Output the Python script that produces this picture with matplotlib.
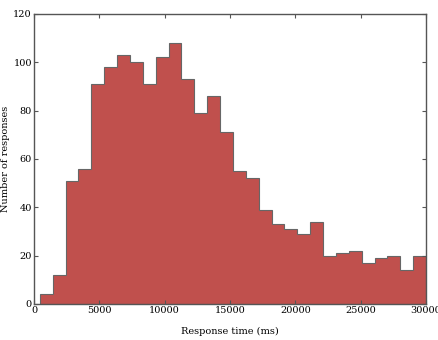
import matplotlib
matplotlib.use("Agg")
import matplotlib.pyplot as plt
import numpy as np

# response counts per bin
COUNTS = [4, 12, 51, 56, 91, 98, 103, 100, 91, 102,
          108, 93, 79, 86, 71, 55, 52, 39, 33, 31,
          29, 34, 20, 21, 22, 17, 19, 20, 14, 20]
MIN_TIME = 450
MAX_TIME = 30000

plt.rcParams["font.family"] = "DejaVu Serif"
plt.rcParams["font.size"] = 7


def main():
    edges = np.linspace(MIN_TIME, MAX_TIME, len(COUNTS) + 1)

    fig = plt.figure(figsize=(4.38, 3.40), dpi=100)
    ax = fig.add_axes([0.0776, 0.1059, 0.895, 0.853])

    ax.hist(edges[:-1], bins=edges, weights=COUNTS, histtype="stepfilled",
            facecolor="#c0504d", edgecolor="#666666", linewidth=0.8)

    ax.set_xlim(0, 30000)
    ax.set_ylim(0, 120)
    ax.set_xticks(np.arange(0, 30001, 5000))
    ax.set_yticks(np.arange(0, 121, 20))
    ax.tick_params(direction="in", top=True, right=True, length=3,
                   width=0.8, color="#555555", pad=1.5)
    for spine in ax.spines.values():
        spine.set_color("#555555")
        spine.set_linewidth(1.0)

    ax.set_xlabel("Response time (ms)")
    ax.set_ylabel("Number of responses")
    ax.xaxis.set_label_coords(0.5, -0.078)
    ax.yaxis.set_label_coords(-0.062, 0.5)

    fig.savefig("out.png", dpi=100)


if __name__ == "__main__":
    main()
